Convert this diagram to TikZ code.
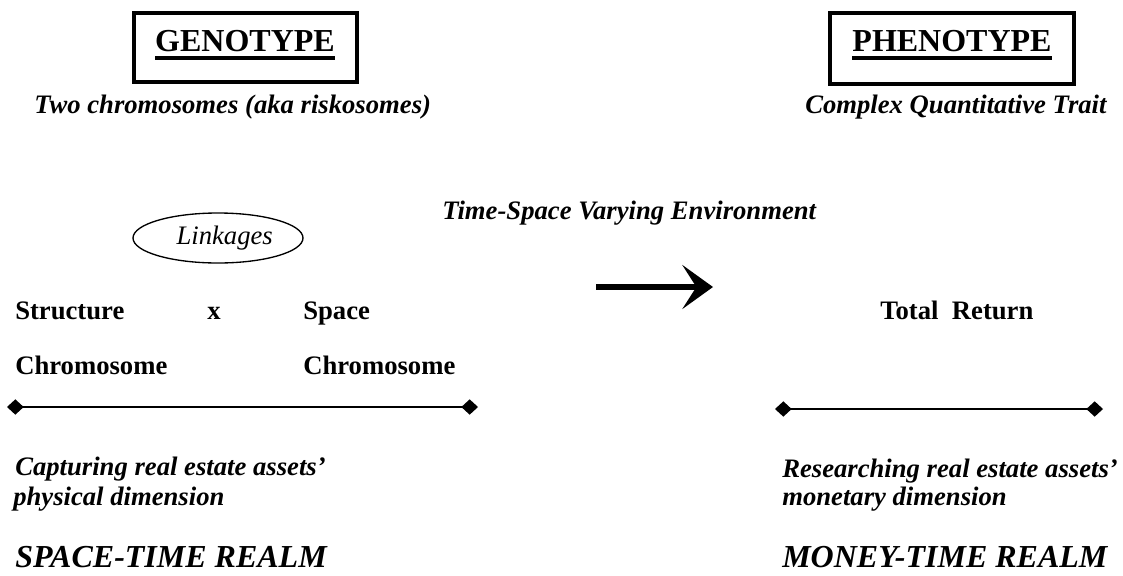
\documentclass[tikz,border=0pt]{standalone}
\usepackage{fontspec}
\setmainfont{Liberation Serif}
\usetikzlibrary{arrows.meta,shapes.geometric}
\newcommand\myul[1]{\setbox0\hbox{#1}\rlap{\rule[-6.4pt]{\wd0}{2.6pt}}\box0}
\tikzset{
  txt/.style={inner sep=0pt, anchor=base west, font=\fontsize{20}{23}\selectfont\bfseries},
  itx/.style={txt, font=\fontsize{20}{23}\selectfont\bfseries\itshape},
  big/.style={txt, font=\fontsize{24}{28}\selectfont\bfseries\itshape},
  title/.style={inner sep=0pt, anchor=base, font=\fontsize{24}{28}\selectfont\bfseries},
  frame/.style={draw, line width=2.4pt},
  bar/.style={line width=1.5pt, {Diamond[length=12.5pt,width=11.5pt]}-{Diamond[length=12.5pt,width=11.5pt]}},
}
\begin{document}
\begin{tikzpicture}[x=0.75pt,y=-0.75pt]
\useasboundingbox (0,0) rectangle (1123,575);
% title boxes
\draw[frame] (134,13) rectangle (357,82);
\node[title] (geno) at (245,51) {\myul{GENOTYPE}};
\draw[frame] (830,13) rectangle (1074,84);
\node[title] (pheno) at (952,51) {\myul{PHENOTYPE}};
\node[itx] (two) at (34,113) {Two chromosomes (aka riskosomes)};
\node[itx] (cqt) at (805,113) {Complex Quantitative Trait};
% middle
\node[itx] (tsv) at (442,219) {Time-Space Varying Environment};
\node[draw, ellipse, line width=1pt, minimum width=127.5pt, minimum height=37.5pt, inner sep=0pt,
      font=\fontsize{20}{23}\selectfont\itshape] (link) at (218,238) {\hspace{10pt}Linkages};
\node[txt] (struct) at (15,319) {Structure};
\node[txt] (x) at (207,319) {x};
\node[txt] (space) at (303,319) {Space};
\node[txt] (chr1) at (15,374) {Chromosome};
\node[txt] (chr2) at (303,374) {Chromosome};
\node[txt] (tr) at (880,319) {Total\ \ Return};
\coordinate (a1) at (596,287);
\coordinate (a2) at (713,287);
\draw[line width=4.6pt, -{Stealth[length=23pt,width=33pt,inset=10.5pt]}] (a1) -- (a2);
% bars
\coordinate (l1) at (7,407);
\coordinate (l2) at (478,407);
\draw[bar] (l1) -- (l2);
\coordinate (r1) at (775,409);
\coordinate (r2) at (1103,409);
\draw[bar] (r1) -- (r2);
% lower texts
\node[itx] (cap1) at (15,475) {Capturing real estate assets’};
\node[itx] (cap2) at (13,505) {physical dimension};
\node[itx] (res1) at (782,477) {Researching real estate assets’};
\node[itx] (res2) at (782,505) {monetary dimension};
\node[big] (str) at (15,567) {SPACE-TIME REALM};
\node[big] (mtr) at (782,567) {MONEY-TIME REALM};
\end{tikzpicture}
\end{document}
